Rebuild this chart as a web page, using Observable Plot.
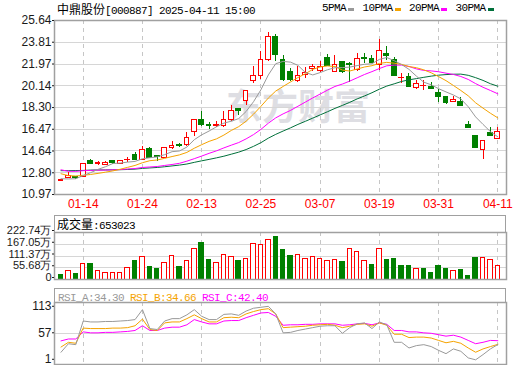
<!DOCTYPE html>
<html><head><meta charset="utf-8">
<script src="https://cdn.jsdelivr.net/npm/d3@7"></script>
<script src="https://cdn.jsdelivr.net/npm/@observablehq/plot@0.6"></script>
<style>
html,body{margin:0;padding:0;background:#fff;}
#wrap{position:relative;width:520px;height:365px;overflow:hidden;background:#fff;}
#wrap svg{position:absolute;left:0;}
.mono{font-family:"Liberation Mono","DejaVu Sans Mono",monospace;font-size:11px;letter-spacing:-0.6px;}
.cjk{font-family:"Noto Sans CJK SC",sans-serif;font-size:12px;letter-spacing:0;}
.hdr{position:absolute;left:54px;width:452px;box-sizing:border-box;border:1.5px solid #a0a0a0;border-bottom:none;padding-left:2px;white-space:nowrap;color:#000;}
#wm{position:absolute;left:226px;top:84px;font-family:"Noto Sans CJK SC",sans-serif;font-weight:700;font-size:36px;line-height:40px;color:#dedee3;white-space:nowrap;}
</style></head>
<body><div id="wrap"><div id="wm"></div></div>
<script>
// ---------- data ----------
const stockName = "中鼎股份";
const stockCode = "000887";
const stamp = "2025-04-11 15:00";
const watermark = "东方财富";
const dates = ["01-09","01-10","01-13","01-14","01-15","01-16","01-17","01-20","01-21","01-22","01-23","01-24","01-27","02-05","02-06","02-07","02-10","02-11","02-12","02-13","02-14","02-17","02-18","02-19","02-20","02-21","02-24","02-25","02-26","02-27","02-28","03-03","03-04","03-05","03-06","03-07","03-10","03-11","03-12","03-13","03-14","03-17","03-18","03-19","03-20","03-21","03-24","03-25","03-26","03-27","03-28","03-31","04-01","04-02","04-03","04-07","04-08","04-09","04-10","04-11"];
const tickDates = ["01-14","01-24","02-13","02-25","03-07","03-19","03-31","04-11"];
const open  = [12.12,12.32,12.45,12.42,13.80,13.55,13.49,13.80,13.58,13.86,14.30,13.86,14.80,14.20,14.04,14.86,15.12,15.14,16.20,17.27,16.84,16.73,16.75,17.22,18.19,18.83,20.55,20.95,22.27,24.29,22.33,21.29,20.52,21.08,21.55,21.37,22.52,21.29,22.15,21.99,21.43,22.47,22.38,21.93,22.85,22.27,20.78,20.84,19.97,20.08,20.05,19.52,19.18,18.74,18.80,16.87,15.88,14.70,16.14,15.66];
const high  = [12.25,12.80,12.50,13.55,13.88,13.78,13.75,13.82,13.78,14.05,14.55,15.00,14.90,14.30,14.88,15.40,15.28,16.20,17.30,17.98,17.07,17.15,17.97,18.46,18.25,19.72,21.78,23.00,24.60,24.50,22.65,21.57,21.80,21.70,21.95,22.20,22.76,22.69,22.20,22.10,22.87,22.83,22.65,24.02,23.45,22.49,21.15,21.17,20.60,20.60,20.42,19.85,19.20,19.27,19.12,17.13,15.95,15.55,16.62,16.62];
const low   = [12.06,12.28,12.22,12.38,13.48,13.42,13.40,13.52,13.52,13.70,13.84,13.84,14.04,13.78,14.00,14.80,14.90,15.05,15.85,16.73,16.45,16.62,16.60,17.10,17.60,18.45,20.30,20.70,22.20,22.20,20.50,20.50,20.45,20.75,21.35,21.28,21.75,21.25,21.20,20.40,21.30,21.99,21.99,21.42,22.30,20.95,20.30,19.98,19.80,19.78,19.85,18.75,18.60,18.70,18.40,16.55,14.85,13.90,15.85,15.62];
const close = [12.18,12.52,12.32,13.52,13.50,13.60,13.62,13.64,13.76,13.90,13.86,14.76,14.06,14.14,14.85,15.10,15.05,15.70,17.27,16.87,16.72,16.84,17.27,18.05,17.99,19.72,20.92,22.33,24.29,22.75,20.66,20.62,21.00,21.25,21.70,21.70,21.82,21.85,21.29,21.87,22.36,22.40,22.08,23.11,22.65,21.00,20.83,20.02,20.25,20.12,19.88,19.18,18.65,18.97,18.45,16.58,14.90,15.52,15.90,16.25];
const ma5  = [12.30,12.28,12.30,12.57,12.81,13.09,13.31,13.58,13.62,13.70,13.76,13.98,14.07,14.14,14.33,14.58,14.64,14.97,15.59,16.00,16.32,16.68,16.99,17.15,17.37,17.97,18.79,19.80,21.05,22.00,22.19,22.13,21.86,21.26,21.05,21.25,21.49,21.66,21.67,21.71,21.84,21.95,22.00,22.36,22.52,22.25,21.93,21.52,20.95,20.44,20.22,19.89,19.62,19.36,19.03,18.37,17.51,16.88,16.27,15.83];
const ma10 = [12.72,12.56,12.53,12.59,12.66,12.75,12.85,12.96,13.10,13.26,13.42,13.65,13.82,13.88,14.02,14.17,14.31,14.52,14.87,15.17,15.45,15.66,15.98,16.37,16.69,17.15,17.74,18.40,19.10,19.69,20.08,20.46,20.83,21.15,21.52,21.72,21.81,21.76,21.46,21.38,21.55,21.72,21.83,22.02,22.11,22.04,21.94,21.76,21.66,21.48,21.23,20.91,20.57,20.16,19.74,19.29,18.70,18.25,17.82,17.43];
const ma20 = [13.05,12.93,12.92,12.98,13.00,13.02,13.03,13.05,13.07,13.12,13.16,13.25,13.29,13.33,13.42,13.50,13.60,13.78,13.99,14.21,14.44,14.65,14.90,15.13,15.35,15.66,16.02,16.46,16.98,17.43,17.77,18.06,18.41,18.76,19.11,19.44,19.77,20.08,20.28,20.53,20.81,21.09,21.33,21.59,21.82,21.88,21.88,21.76,21.56,21.43,21.39,21.32,21.20,21.09,20.92,20.67,20.32,20.01,19.74,19.46];
const ma30 = [12.98,12.98,12.99,13.00,13.03,13.04,13.04,13.05,13.06,13.08,13.11,13.17,13.21,13.25,13.31,13.38,13.45,13.54,13.68,13.81,13.93,14.06,14.20,14.37,14.54,14.76,15.03,15.34,15.72,16.04,16.32,16.59,16.88,17.14,17.41,17.68,17.95,18.23,18.48,18.74,19.03,19.28,19.55,19.85,20.11,20.30,20.50,20.64,20.74,20.85,20.95,21.03,21.08,21.11,21.12,21.02,20.82,20.59,20.31,20.10];
// volume in 万 (10k shares)
const volume = [19,41,24,75,72,38,32,32,32,56,86,108,60,52,80,113,60,89,146,172,91,80,118,108,86,99,170,162,186,200,138,110,118,99,108,99,86,91,81,143,129,86,67,143,91,95,62,62,51,52,33,62,52,41,43,16,102,102,91,65.3023];
const volumeUp = [0,1,0,1,0,1,1,1,1,1,0,1,0,0,1,1,0,1,1,0,0,1,1,1,0,1,1,1,1,0,0,0,1,1,1,1,1,1,0,1,1,1,0,1,0,0,0,0,1,0,0,0,0,1,0,0,0,1,1,1];
const rsiA = [18,36,34,84,82,82,83,83,84,85,87,108,68,66,84,89,89,97,108,94,87,87,98,99,96,105,111,113,115,99,59,60,64,67,70,73,74,74,58,70,78,80,68,82,76,39,39,27,32,34,30,22,15,25,20,6,2,13,25,34.30];
const rsiB = [29,39,37,69,68,68,68,69,69,70,74,88,66,64,80,82,82,89,97,89,82,82,91,92,91,99,104,108,110,99,70,71,72,73,75,76,77,75,70,73,77,78,73,80,75,56,56,49,50,50,48,43,38,41,37,27,18,25,30,34.66];
const rsiC = [42,46,46,61,59,59,60,60,61,62,64,74,64,64,69,71,71,76,87,82,78,78,84,85,85,91,96,101,102,94,75,76,76,77,77,78,78,78,75,76,78,79,76,80,77,64,64,61,61,59,58,55,52,54,50,43,36,39,43,42.40];
const priceTicks = [10.97,12.80,14.64,16.47,18.30,20.14,21.97,23.81,25.64];
const volumeTicks = [0,55.68,111.37,167.05,222.74];
const rsiTicks = [1,57,113];
const rsiDomain = [-7.9, 123.1];

// ---------- build ----------
const RED = "#ff0000", GREEN = "#008000";
const C_MA5 = "#999999", C_MA10 = "#f5a300", C_MA20 = "#ff00ff", C_MA30 = "#00703a";
const rows = dates.map((d, i) => ({
  i, date: d, open: open[i], high: high[i], low: low[i], close: close[i],
  up: close[i] >= open[i], vol: volume[i], volUp: volumeUp[i] === 1,
  ma5: ma5[i], ma10: ma10[i], ma20: ma20[i], ma30: ma30[i],
  rA: rsiA[i], rB: rsiB[i], rC: rsiC[i]
}));
const tickIdx = tickDates.map(t => dates.indexOf(t));
const xDomain = [-0.88, 60.17];
const W = 520, ML = 54, MR = 14;
const baseStyle = {background: "transparent", fontFamily: "'Liberation Sans', Arial, sans-serif", fontSize: "12px", overflow: "visible"};
const wrap = document.getElementById("wrap");
document.getElementById("wm").textContent = watermark;

function place(svg, top) { svg.style.top = top + "px"; wrap.appendChild(svg); }

const frameOpt = {stroke: "#a0a0a0", strokeWidth: 1.5};
const gridH = {stroke: "#d6d6d6", shapeRendering: "crispEdges"};
const gridV = {stroke: "#c6c6c6", strokeDasharray: "4,4", shapeRendering: "crispEdges"};

// price panel
const price = Plot.plot({
  width: W, height: 215, marginLeft: ML, marginRight: MR, marginTop: 20, marginBottom: 21,
  style: baseStyle,
  x: {type: "linear", domain: xDomain, axis: null, label: null},
  y: {type: "linear", domain: [priceTicks[0], priceTicks[priceTicks.length - 1]], axis: null, label: null},
  marks: [
    Plot.ruleY(priceTicks, gridH),
    Plot.ruleX(tickIdx, gridV),
    Plot.ruleX(rows, {x: "i", y1: "low", y2: "high", stroke: d => d.up ? RED : GREEN, shapeRendering: "crispEdges"}),
    Plot.rect(rows, {x1: d => d.i - 0.32, x2: d => d.i + 0.32, y1: "open", y2: "close",
      fill: d => d.up ? "#ffffff" : GREEN, stroke: d => d.up ? RED : GREEN, shapeRendering: "crispEdges"}),
    Plot.line(rows, {x: "i", y: "ma30", stroke: C_MA30, strokeWidth: 1}),
    Plot.line(rows, {x: "i", y: "ma20", stroke: C_MA20, strokeWidth: 1}),
    Plot.line(rows, {x: "i", y: "ma10", stroke: C_MA10, strokeWidth: 1}),
    Plot.line(rows, {x: "i", y: "ma5", stroke: C_MA5, strokeWidth: 1}),
    Plot.frame(frameOpt),
    Plot.axisY(priceTicks, {tickSize: 2, tickPadding: 1, tickFormat: d => d.toFixed(2), color: "#1a1a1a", label: null}),
    Plot.axisX(tickIdx, {tickSize: 0, tickPadding: 5, tickFormat: i => dates[i], color: "#ff0000", label: null})
  ]
});
place(price, 0);

// volume panel
const vol = Plot.plot({
  width: W, height: 66, marginLeft: ML, marginRight: MR, marginTop: 17, marginBottom: 2,
  style: baseStyle,
  x: {type: "linear", domain: xDomain, axis: null, label: null},
  y: {type: "linear", domain: [volumeTicks[0], volumeTicks[volumeTicks.length - 1]], axis: null, label: null},
  marks: [
    Plot.ruleY(volumeTicks.slice(1, -1), gridH),
    Plot.ruleX(tickIdx, gridV),
    Plot.rect(rows, {x1: d => d.i - 0.3, x2: d => d.i + 0.3, y1: 0, y2: "vol",
      fill: d => d.volUp ? "#ffffff" : GREEN, stroke: d => d.volUp ? RED : GREEN, shapeRendering: "crispEdges"}),
    Plot.frame(frameOpt),
    Plot.axisY(volumeTicks, {tickSize: 2, tickPadding: 1, dy: -2, fontSize: 11, tickFormat: d => d === 0 ? "0" : d.toFixed(2) + "万", color: "#1a1a1a", label: null})
  ]
});
place(vol, 215);

// rsi panel
const rsi = Plot.plot({
  width: W, height: 77, marginLeft: ML, marginRight: MR, marginTop: 14, marginBottom: 1,
  style: baseStyle,
  x: {type: "linear", domain: xDomain, axis: null, label: null},
  y: {type: "linear", domain: rsiDomain, axis: null, label: null},
  marks: [
    Plot.ruleY([rsiTicks[1]], gridH),
    Plot.ruleX(tickIdx, gridV),
    Plot.line(rows, {x: "i", y: "rC", stroke: C_MA20, strokeWidth: 1}),
    Plot.line(rows, {x: "i", y: "rB", stroke: C_MA10, strokeWidth: 1}),
    Plot.line(rows, {x: "i", y: "rA", stroke: C_MA5, strokeWidth: 1}),
    Plot.frame(frameOpt),
    Plot.axisY(rsiTicks, {tickSize: 2, tickPadding: 1, dy: -1, color: "#1a1a1a", label: null})
  ]
});
place(rsi, 288);

// title
const title = document.createElement("div");
Object.assign(title.style, {position: "absolute", left: "57px", top: "0px", lineHeight: "17px", whiteSpace: "nowrap", color: "#000"});
title.innerHTML = `<span class="cjk">${stockName}</span><span class="mono">[${stockCode}] ${stamp}</span>`;
wrap.appendChild(title);

// legend
const legend = document.createElement("div");
Object.assign(legend.style, {position: "absolute", left: "322px", top: "0px", lineHeight: "17px", whiteSpace: "nowrap", display: "flex", alignItems: "center", height: "17px"});
[["5PMA", C_MA5], ["10PMA", C_MA10], ["20PMA", C_MA20], ["30PMA", C_MA30]].forEach(([t, c]) => {
  const s = document.createElement("span"); s.className = "mono"; s.textContent = t; s.style.color = "#000";
  const m = document.createElement("span");
  Object.assign(m.style, {display: "inline-block", width: "6px", height: "3px", background: c, marginLeft: "2px", marginRight: "8.5px", marginTop: "1px"});
  legend.appendChild(s); legend.appendChild(m);
});
wrap.appendChild(legend);

// volume header
const vh = document.createElement("div");
vh.className = "hdr";
Object.assign(vh.style, {top: "215px", height: "18px", lineHeight: "16px"});
vh.innerHTML = `<span class="cjk">成交量</span><span class="mono">:${Math.round(volume[volume.length - 1] * 10000)}</span>`;
wrap.appendChild(vh);

// rsi header
const rh = document.createElement("div");
rh.className = "hdr";
Object.assign(rh.style, {top: "288px", height: "15px", lineHeight: "13px", paddingLeft: "3px"});
const last = a => a[a.length - 1].toFixed(2);
rh.innerHTML = `<span class="mono" style="color:${C_MA5}">RSI_A:${last(rsiA)} </span><span class="mono" style="color:${C_MA10}">RSI_B:${last(rsiB)} </span><span class="mono" style="color:${C_MA20}">RSI_C:${last(rsiC)}</span>`;
wrap.appendChild(rh);
</script>
</body></html>
